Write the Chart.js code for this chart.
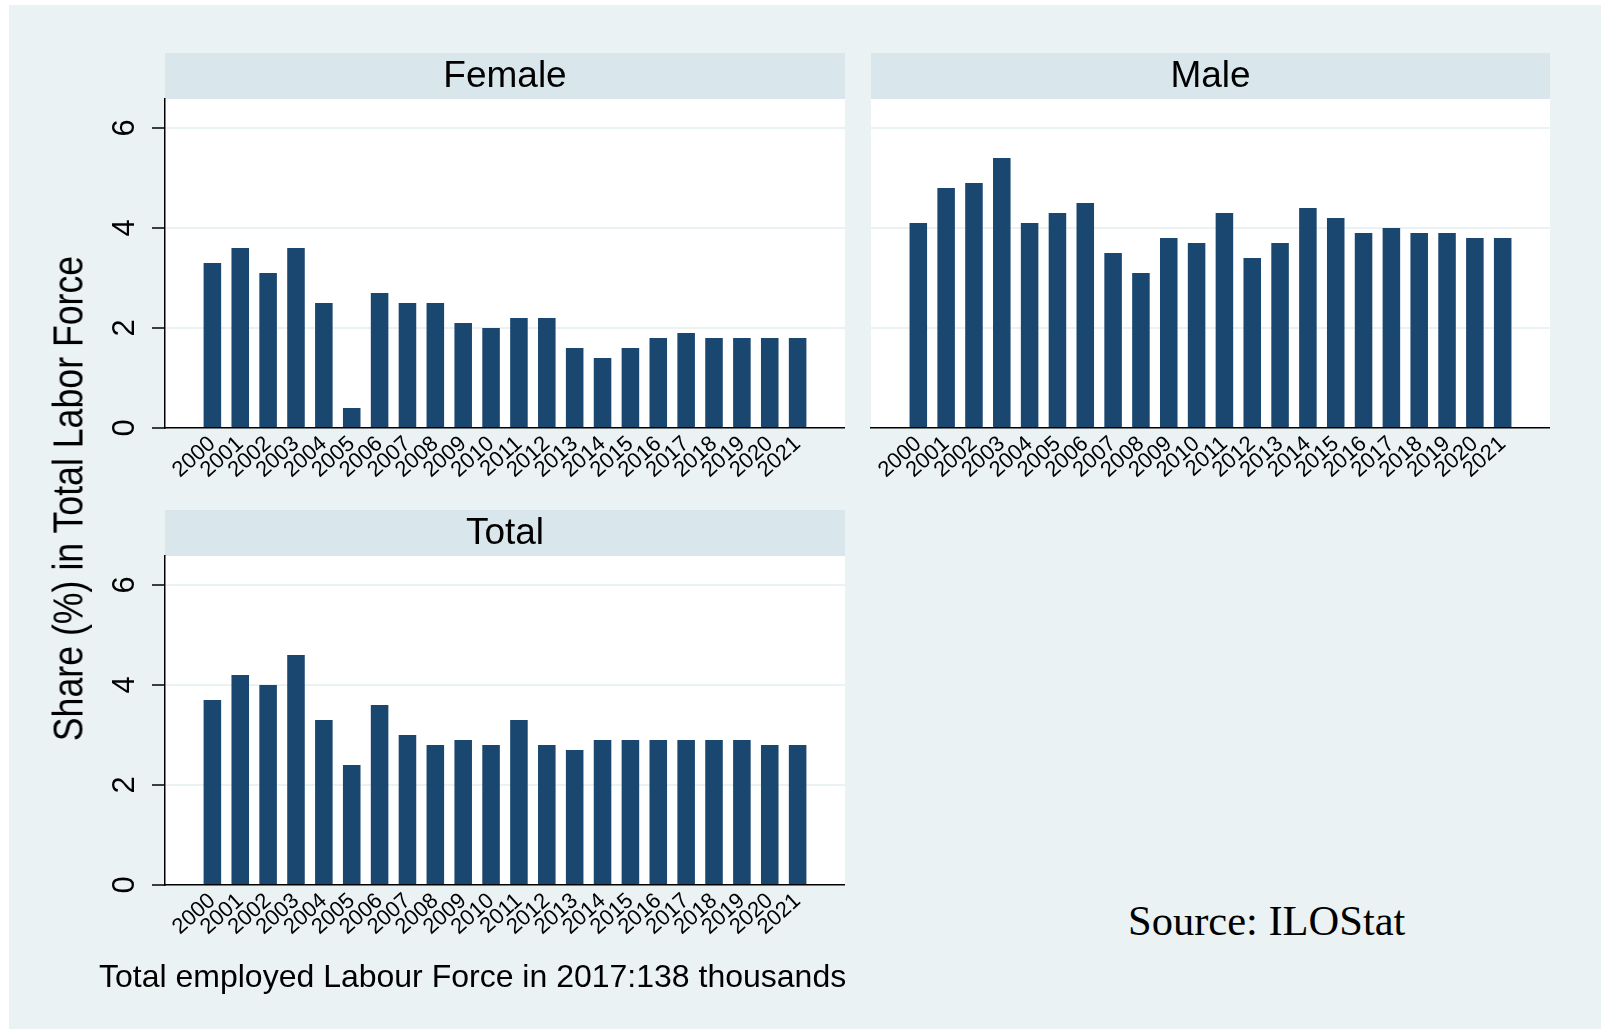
<!DOCTYPE html>
<html>
<head>
<meta charset="utf-8">
<title>Share in Total Labor Force</title>
<script src="https://cdn.jsdelivr.net/npm/chart.js@4.4.1/dist/chart.umd.min.js"></script>
<style>
  html, body { margin: 0; padding: 0; background: #fff; overflow: hidden; }
  #bg { position: absolute; left: 9px; top: 5px; width: 1592px; height: 1024px; background: #eaf2f3; }
  canvas { position: absolute; }
  .txt { position: absolute; white-space: nowrap; color: #000; line-height: 1; }
  #ytitle { left: -282.5px; top: 476.5px; width: 700px; height: 43px; text-align: center;
            font: 43px "Liberation Sans", Arial, sans-serif; line-height: 43px;
            transform: rotate(-90deg) scaleX(0.83); }
  #note { left: 99px; top: 960px; font: 32px "Liberation Sans", Arial, sans-serif; line-height: 1; }
  #source { left: 1128px; top: 900px; font: 42.5px "Liberation Serif", "Times New Roman", serif; line-height: 1; }
</style>
</head>
<body>
<div id="bg"></div>
<canvas id="female" width="845" height="500" style="left:0px; top:0px"></canvas>
<canvas id="male" width="844" height="500" style="left:706px; top:0px"></canvas>
<canvas id="total" width="845" height="500" style="left:0px; top:457px"></canvas>
<div class="txt" id="ytitle">Share (%) in Total Labor Force</div>
<div class="txt" id="note">Total employed Labour Force in 2017:138 thousands</div>
<div class="txt" id="source">Source: ILOStat</div>
<script>
const years = [2000, 2001, 2002, 2003, 2004, 2005, 2006, 2007, 2008, 2009, 2010,
               2011, 2012, 2013, 2014, 2015, 2016, 2017, 2018, 2019, 2020, 2021];
const yearLabels = years.map(String);

const female = [3.3, 3.6, 3.1, 3.6, 2.5, 0.4, 2.7, 2.5, 2.5, 2.1, 2.0,
                2.2, 2.2, 1.6, 1.4, 1.6, 1.8, 1.9, 1.8, 1.8, 1.8, 1.8];
const male = [4.1, 4.8, 4.9, 5.4, 4.1, 4.3, 4.5, 3.5, 3.1, 3.8, 3.7,
              4.3, 3.4, 3.7, 4.4, 4.2, 3.9, 4.0, 3.9, 3.9, 3.8, 3.8];
const total = [3.7, 4.2, 4.0, 4.6, 3.3, 2.4, 3.6, 3.0, 2.8, 2.9, 2.8,
               3.3, 2.8, 2.7, 2.9, 2.9, 2.9, 2.9, 2.9, 2.9, 2.8, 2.8];

const yTicks = [0, 2, 4, 6];
const yMax = 6.58;

const BAR = '#1a476f';
const GRID = '#eaf2f3';
const STRIP = '#d9e6ec';

Chart.defaults.font.family = '"Liberation Sans", Arial, sans-serif';
Chart.defaults.color = '#000';

// white plot region + grey title strip above it
const stripPlugin = {
    id: 'strip',
    beforeDraw(chart, args, opts) {
        const {ctx, chartArea: a} = chart;
        ctx.save();
        ctx.fillStyle = '#fff';
        ctx.fillRect(a.left, a.top, a.right - a.left, a.bottom - a.top);
        ctx.fillStyle = STRIP;
        ctx.fillRect(a.left, a.top - 46, a.right - a.left, 46);
        ctx.fillStyle = '#000';
        ctx.font = '37px "Liberation Sans", Arial, sans-serif';
        ctx.textAlign = 'center';
        ctx.textBaseline = 'alphabetic';
        ctx.fillText(opts.text, (a.left + a.right) / 2, a.top - 12);
        ctx.restore();
    }
};

function panel(id, title, values, showY) {
    const config = {
        type: 'bar',
        data: {
            datasets: [{
                data: years.map((yr, i) => ({x: yr, y: values[i]})),
                backgroundColor: BAR,
                categoryPercentage: 1,
                barPercentage: 0.63,
            }]
        },
        options: {
            responsive: false,
            animation: false,
            devicePixelRatio: 1,
            layout: { padding: { top: 99, left: 0, right: 0, bottom: 0 } },
            plugins: {
                legend: { display: false },
                tooltip: { enabled: false },
                strip: { text: title },
            },
            scales: {
                x: {
                    type: 'linear',
                    offset: false,
                    min: 1998.3,
                    max: 2022.7,
                    afterBuildTicks: (s) => { s.ticks = years.map(v => ({value: v})); },
                    afterFit: (s) => { s.height = 72; },
                    grid: { display: false, drawTicks: false, offset: false },
                    border: { display: true, color: '#000', width: 1.5, z: 1 },
                    ticks: {
                        autoSkip: false,
                        minRotation: 42,
                        maxRotation: 42,
                        padding: 3,
                        color: '#000',
                        font: { size: 22 },
                        callback: (v) => yearLabels[years.indexOf(v)],
                    },
                },
                y: {
                    min: 0,
                    max: yMax,
                    afterBuildTicks: (s) => { s.ticks = yTicks.map(v => ({value: v})); },
                    afterFit: (s) => { s.width = 165; },
                    grid: {
                        color: (c) => (c.tick && c.tick.value === 0) ? 'rgba(0,0,0,0)' : GRID,
                        lineWidth: 2,
                        drawTicks: showY,
                        tickLength: 13,
                        tickColor: '#000',
                        tickWidth: 1.5,
                    },
                    border: { display: showY, color: '#000', width: 1.5, z: 1 },
                    ticks: {
                        display: showY,
                        minRotation: 90,
                        maxRotation: 90,
                        crossAlign: 'center',
                        padding: 18,
                        color: '#000',
                        font: { size: 31 },
                    },
                },
            },
        },
        plugins: [stripPlugin],
    };
    return new Chart(document.getElementById(id).getContext('2d'), config);
}

const femaleChart = panel('female', 'Female', female, true);
const maleChart = panel('male', 'Male', male, false);
const totalChart = panel('total', 'Total', total, true);
</script>
</body>
</html>
